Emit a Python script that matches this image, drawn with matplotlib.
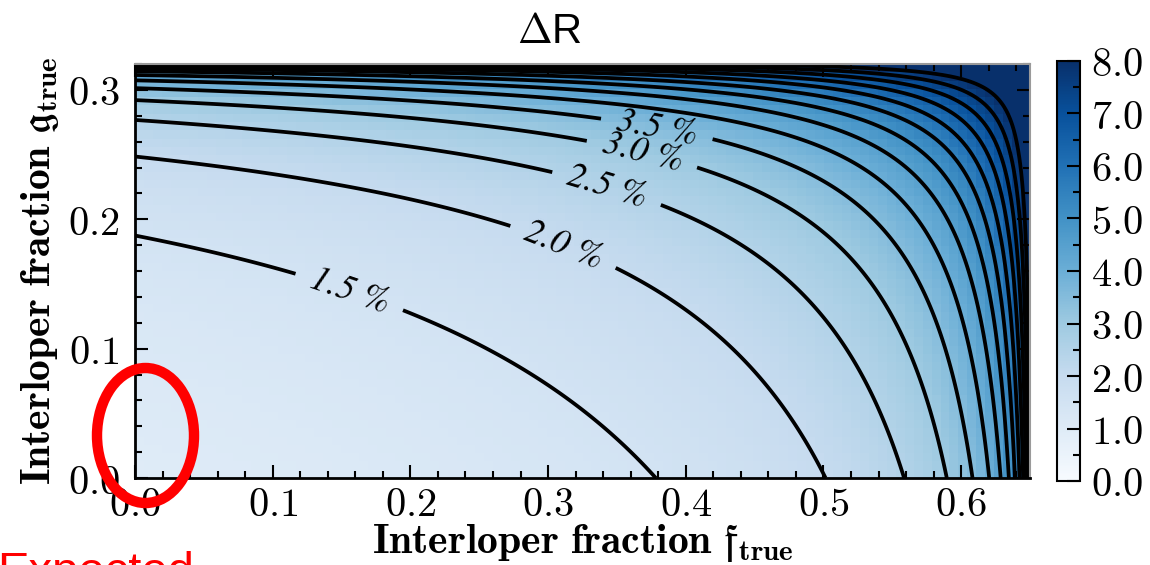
import numpy as np
import matplotlib
matplotlib.use("Agg")
import matplotlib.pyplot as plt
from matplotlib.patches import Ellipse
from matplotlib.ticker import FuncFormatter, MultipleLocator

plt.rcParams['mathtext.fontset'] = 'cm'

# Delta R (in %) as a function of the two interloper fractions
f_pole = 0.66     # f_true at which Delta R blows up (g_true = 0)
g_pole = 0.327    # g_true at which Delta R blows up (f_true = 0)
dr_zero = 0.98    # Delta R without interlopers
floor = 0.0115    # keeps the f-g corner finite

f_lim = (0.0, 0.65)
g_lim = (0.0, 0.32)
n_f, n_g = 100, 50

levels = np.arange(1.5, 8.01, 0.5)
labelled = [1.5, 2.0, 2.5, 3.0, 3.5]
label_f = [0.156, 0.311, 0.342, 0.367, 0.378]
label_g = [0.145, 0.179, 0.222, 0.245, 0.264]
cbar_ticks = np.arange(0.0, 8.01, 1.0)


def delta_r(f, g):
    x = f / f_pole
    y = g / g_pole
    return dr_zero / np.sqrt((1 - x) * (1 - y) + floor * x * y)


def bold(v, pos=None):
    return r'$\mathbf{%.1f}$' % v


# coarse map for the colours, fine one for the contours
fe = np.linspace(*f_lim, n_f + 1)
ge = np.linspace(*g_lim, n_g + 1)
fc = 0.5 * (fe[1:] + fe[:-1])
gc = 0.5 * (ge[1:] + ge[:-1])
FC, GC = np.meshgrid(fc, gc)
ff, gg = np.meshgrid(np.linspace(*f_lim, 600), np.linspace(*g_lim, 300))

fig = plt.figure(figsize=(11.5, 5.65), dpi=100)
ax = fig.add_axes([135 / 1150, 87 / 565, 895 / 1150, 414 / 565])
cax = fig.add_axes([1057 / 1150, 84 / 565, 23 / 1150, 420 / 565])

mesh = ax.pcolormesh(fe, ge, delta_r(FC, GC), cmap='Blues', vmin=0, vmax=8)
cs = ax.contour(ff, gg, delta_r(ff, gg), levels=levels, colors='k', linewidths=2.7)

with plt.rc_context({'font.family': 'STIXGeneral', 'font.style': 'italic'}):
    ax.clabel(cs, labelled, inline=True, inline_spacing=16, fontsize=26,
              fmt=lambda v: '%.1f %%' % v, manual=list(zip(label_f, label_g)))

ax.set_xlim(*f_lim)
ax.set_ylim(*g_lim)
ax.xaxis.set_major_locator(MultipleLocator(0.1))
ax.xaxis.set_minor_locator(MultipleLocator(0.02))
ax.yaxis.set_major_locator(MultipleLocator(0.1))
ax.yaxis.set_minor_locator(MultipleLocator(0.02))
ax.xaxis.set_major_formatter(FuncFormatter(bold))
ax.yaxis.set_major_formatter(FuncFormatter(bold))
ax.tick_params(which='both', direction='in', top=True, right=True, width=1.5,
               labelsize=29)
ax.tick_params(which='major', length=9.5)
ax.tick_params(which='minor', length=5)
ax.tick_params(axis='x', which='major', pad=5)
ax.tick_params(axis='y', which='major', pad=11)
for side in ['left', 'bottom']:
    ax.spines[side].set_linewidth(2)
for side in ['top', 'right']:
    ax.spines[side].set_color('#9a9a9a')
    ax.spines[side].set_linewidth(1.5)

ax.set_xlabel(r'$\mathbf{Interloper\ fraction}\ \mathfrak{f}_{\mathbf{true}}$',
              fontsize=30, labelpad=-2)
ax.set_ylabel(r'$\mathbf{Interloper\ fraction}\ \mathfrak{g}_{\mathbf{true}}$',
              fontsize=30, labelpad=5)

cb = fig.colorbar(mesh, cax=cax, ticks=cbar_ticks)
cb.outline.set_linewidth(1.5)
cax.yaxis.set_minor_locator(MultipleLocator(0.5))
cax.yaxis.set_major_formatter(FuncFormatter(bold))
cax.tick_params(which='both', direction='in', width=1.5, labelsize=29)
cax.tick_params(which='major', length=9.5, pad=8)
cax.tick_params(which='minor', length=5)

fig.text(549 / 1150, 1 - 43 / 565, r'$\Delta$R', family='Liberation Sans',
         fontsize=30, ha='center', va='baseline')

# highlight of the expected region
fig.add_artist(Ellipse((145.5 / 1150, 1 - 435.5 / 565), 97 / 1150, 135 / 565,
                       transform=fig.transFigure, fill=False, edgecolor='red',
                       linewidth=7.5, zorder=10))
fig.text(-3 / 1150, -20 / 565, 'Expected', family='Liberation Sans',
         fontsize=34, color='red', ha='left', va='baseline')

fig.savefig('out.png', dpi=100)
